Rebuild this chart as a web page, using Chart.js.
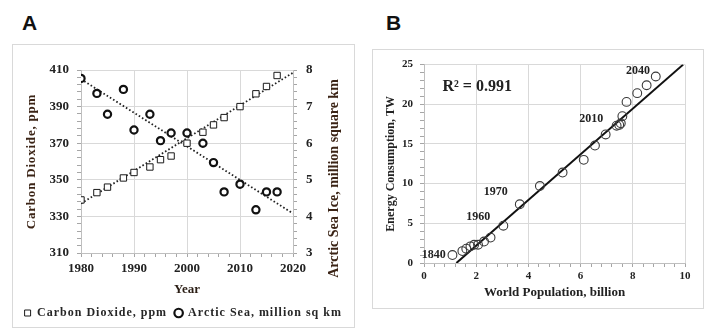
<!DOCTYPE html>
<html>
<head>
<meta charset="utf-8">
<script src="https://cdn.jsdelivr.net/npm/chart.js@4.4.1/dist/chart.umd.min.js"></script>
<style>
  html, body { margin: 0; padding: 0; background: #fff; }
  body { width: 711px; height: 335px; position: relative; overflow: hidden; }
  .tag { position: absolute; font: bold 21px/21px 'Liberation Sans', Arial, sans-serif; color: #111; }
  .frame { position: absolute; border: 1px solid #d9d9d9; box-sizing: border-box; }
  canvas { position: absolute; }
</style>
</head>
<body>
<div class="tag" style="left:22px;top:12px">A</div>
<div class="tag" style="left:386px;top:12px">B</div>
<div class="frame" style="left:12px;top:44px;width:343px;height:284px"></div>
<div class="frame" style="left:372px;top:49px;width:332px;height:260px"></div>
<canvas id="chartA" width="340" height="290" style="left:13px;top:45px"></canvas>
<canvas id="chartB" width="328" height="256" style="left:374px;top:51px"></canvas>

<script>
// ---- Panel A: CO2 concentration and Arctic sea ice by year ----
const years   = [1980, 1983, 1985, 1988, 1990, 1993, 1995, 1997, 2000, 2003, 2005, 2007, 2010, 2013, 2015, 2017];
const co2Ppm  = [339, 343, 346, 351, 354, 357, 361, 363, 370, 376, 380, 384, 390, 397, 401, 407];
const seaIce  = [7.77, 7.36, 6.79, 7.47, 6.36, 6.79, 6.07, 6.28, 6.28, 6.00, 5.47, 4.67, 4.88, 4.18, 4.67, 4.67];
const trendYears = [1980, 2020];
const co2Trend   = [337, 408.5];
const iceTrend   = [7.75, 4.08];
const yearTicks  = [1980, 1990, 2000, 2010, 2020];
const co2Ticks   = [310, 330, 350, 370, 390, 410];
const iceTicks   = [3, 4, 5, 6, 7, 8];
const co2Label   = 'Carbon Dioxide, ppm';
const iceLabel   = 'Arctic Sea, million sq km';
const co2Title   = 'Carbon Dioxide, ppm';
const iceTitle   = 'Arctic Sea Ice, million square km';

// ---- Panel B: world energy use against population ----
const population = [1.09, 1.47, 1.62, 1.78, 1.92, 2.07, 2.30, 2.55, 3.04, 3.67, 4.44, 5.31, 6.12, 6.55, 6.96, 7.38, 7.48, 7.54, 7.60, 7.76, 8.17, 8.53, 8.88];
const energyTW   = [1.0, 1.5, 1.8, 2.1, 2.3, 2.3, 2.7, 3.2, 4.7, 7.4, 9.7, 11.4, 13.0, 14.8, 16.2, 17.3, 17.4, 17.6, 18.5, 20.3, 21.4, 22.4, 23.5];
const fitPop     = [1.24, 9.93];
const fitTW      = [0, 25];
const popTicks   = [0, 2, 4, 6, 8, 10];
const twTicks    = [0, 5, 10, 15, 20, 25];
const yearNotes  = ['2040', '2010', '1970', '1960', '1840'];
const notePop    = [8.20, 6.41, 2.75, 2.08, 0.37];
const noteTW     = [24.16, 18.16, 8.91, 5.79, 1.04];
const rSquared   = 'R² = 0.991';
const rSquaredAt = [2.04, 22.16];

const SERIF = "'Liberation Serif', 'Times New Roman', serif";
const gridGray = '#d9d9d9', axisGray = '#bfbfbf', tickGray = '#a6a6a6';
const titleBrown = '#3b2416';

Chart.defaults.font.family = SERIF;
Chart.defaults.font.weight = 'bold';
Chart.defaults.color = '#222';
Chart.defaults.animation = false;
Chart.defaults.events = [];
Chart.defaults.plugins.tooltip.enabled = false;

const isIn = list => v => list.some(m => Math.abs(m - v) < 1e-6);
const pts = (xs, ys) => xs.map((x, i) => ({ x, y: ys[i] }));

// linear axis with labelled major ticks and short unlabeled minor ticks
function axis(min, max, step, majors, fontSize, padding, extra) {
  const major = isIn(majors);
  return Object.assign({
    type: 'linear', min, max,
    ticks: { stepSize: step, autoSkip: false, maxRotation: 0, padding,
             font: { size: fontSize },
             callback: v => major(v) ? String(Math.round(v * 100) / 100) : '' },
    grid: { color: c => major(c.tick.value) ? gridGray : 'rgba(0,0,0,0)',
            tickColor: tickGray, tickLength: 4, lineWidth: 1 },
    border: { color: axisGray }
  }, extra);
}

function drawUpright(ctx, text, x, y, size, spacing, color) {
  ctx.save();
  ctx.translate(x, y);
  ctx.rotate(-Math.PI / 2);
  ctx.font = `bold ${size}px ${SERIF}`;
  ctx.letterSpacing = spacing;
  ctx.fillStyle = color;
  ctx.textAlign = 'center';
  ctx.textBaseline = 'middle';
  ctx.fillText(text, 0, 0);
  ctx.restore();
}

// side titles of panel A, plus wider letter spacing in its legend
const panelATitles = {
  id: 'panelATitles',
  afterInit(chart) {
    const lg = chart.legend;
    ['fit', 'draw'].forEach(m => {
      const orig = lg[m];
      lg[m] = function (...args) {
        const c = chart.ctx;
        c.save();
        c.letterSpacing = '1px';
        const r = orig.apply(this, args);
        c.restore();
        return r;
      };
    });
  },
  afterDraw(chart) {
    const { ctx, chartArea: { top, bottom }, scales: { y, y2 } } = chart;
    const mid = (top + bottom) / 2;
    drawUpright(ctx, co2Title, y.left + 19, mid, 13, '0.8px', titleBrown);
    drawUpright(ctx, iceTitle, y2.right - 19, mid + 17, 14, '0px', titleBrown);
  }
};

new Chart(document.getElementById('chartA'), {
  type: 'scatter',
  data: {
    datasets: [
      { label: co2Label, data: pts(years, co2Ppm), yAxisID: 'y',
        pointStyle: 'rect', pointRadius: 4.5, pointBorderWidth: 1,
        pointBorderColor: '#1a1a1a', pointBackgroundColor: '#fff',
        borderColor: '#1a1a1a', backgroundColor: '#fff' },
      { label: iceLabel, data: pts(years, seaIce), yAxisID: 'y2',
        pointStyle: 'circle', pointRadius: 3.6, pointBorderWidth: 2.2,
        pointBorderColor: '#111', pointBackgroundColor: '#fff',
        borderColor: '#111', backgroundColor: '#fff' },
      { label: 'co2-trend', data: pts(trendYears, co2Trend), yAxisID: 'y',
        showLine: true, pointRadius: 0, borderColor: '#222', borderWidth: 1.8,
        borderDash: [1.6, 2.2] },
      { label: 'ice-trend', data: pts(trendYears, iceTrend), yAxisID: 'y2',
        showLine: true, pointRadius: 0, borderColor: '#222', borderWidth: 1.8,
        borderDash: [1.6, 2.2] }
    ]
  },
  options: {
    responsive: false,
    layout: { padding: { top: 25, right: 0, bottom: 6, left: 0 } },
    plugins: {
      legend: {
        position: 'bottom',
        labels: {
          usePointStyle: true, boxHeight: 6, boxWidth: 7, padding: 8, color: '#262626',
          font: { size: 12, weight: 'bold' },
          filter: item => item.datasetIndex < 2
        }
      }
    },
    scales: {
      x: axis(1980, 2020, 2, yearTicks, 13, 4, {
        position: 'bottom',
        title: { display: true, text: 'Year', color: '#2a1d14', font: { size: 13 }, padding: { top: 0, bottom: 1.2 } },
        afterFit: s => { s.height = 46; }
      }),
      y: axis(310, 410, 4, co2Ticks, 13, 8, {
        position: 'left',
        afterFit: s => { s.width = 68; }
      }),
      y2: axis(3, 8, 0.2, iceTicks, 13, 9, {
        position: 'right',
        afterFit: s => { s.width = 60; }
      })
    }
  },
  plugins: [panelATitles]
});

// year notes and the fit statistic, placed in data units
const panelBNotes = {
  id: 'panelBNotes',
  afterDatasetsDraw(chart) {
    const { ctx, scales: { x, y } } = chart;
    ctx.save();
    ctx.fillStyle = '#222';
    ctx.textAlign = 'center';
    ctx.textBaseline = 'middle';
    ctx.font = `bold 12px ${SERIF}`;
    yearNotes.forEach((t, i) => ctx.fillText(t, x.getPixelForValue(notePop[i]), y.getPixelForValue(noteTW[i])));
    ctx.font = `bold 16px ${SERIF}`;
    ctx.fillText(rSquared, x.getPixelForValue(rSquaredAt[0]), y.getPixelForValue(rSquaredAt[1]));
    ctx.restore();
  }
};

new Chart(document.getElementById('chartB'), {
  type: 'scatter',
  data: {
    datasets: [
      { label: 'Energy', data: pts(population, energyTW),
        pointStyle: 'circle', pointRadius: 4.4, pointBorderWidth: 1.1,
        pointBorderColor: '#3a3a3a', pointBackgroundColor: 'rgba(255,255,255,0)' },
      { label: 'fit', data: pts(fitPop, fitTW), showLine: true, pointRadius: 0,
        borderColor: '#111', borderWidth: 2 }
    ]
  },
  options: {
    responsive: false,
    layout: { padding: { top: 12, right: 17, bottom: 0, left: 0 } },
    plugins: { legend: { display: false } },
    scales: {
      x: axis(0, 10, 0.4, popTicks, 11, 3, {
        position: 'bottom',
        title: { display: true, text: 'World Population, billion', font: { size: 13 }, padding: { top: 0, bottom: 6.2 } },
        afterFit: s => { s.height = 44; }
      }),
      y: axis(0, 25, 1, twTicks, 11, 7, {
        position: 'left',
        title: { display: true, text: 'Energy Consumption, TW', font: { size: 12 }, padding: { top: 9.8, bottom: 0 } },
        afterFit: s => { s.width = 50; }
      })
    }
  },
  plugins: [panelBNotes]
});
</script>
</body>
</html>
